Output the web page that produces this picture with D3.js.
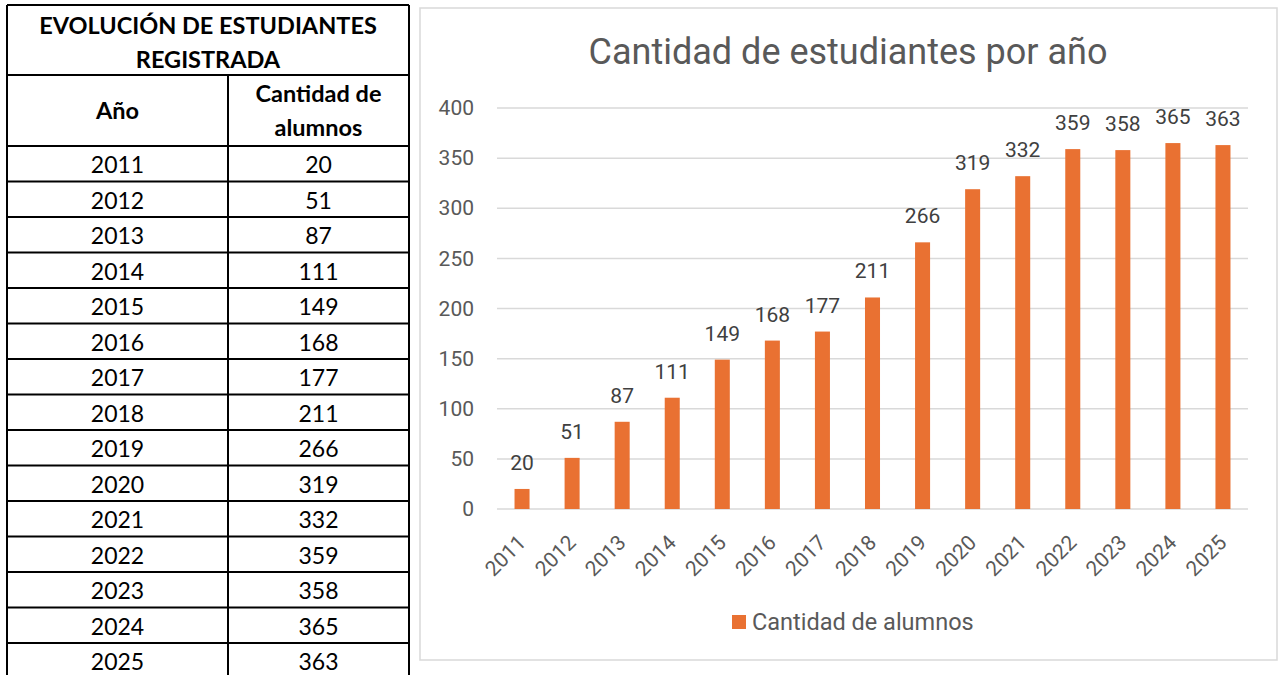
<!DOCTYPE html>
<html>
<head>
<meta charset="utf-8">
<script src="https://cdn.jsdelivr.net/npm/d3@7"></script>
<style>
  html, body { margin: 0; padding: 0; background: #fff; }
  svg { display: block; }
</style>
</head>
<body>
<svg id="chart"></svg>
<script>
// Data
const years = ['2011', '2012', '2013', '2014', '2015', '2016', '2017', '2018',
               '2019', '2020', '2021', '2022', '2023', '2024', '2025'];
const students = [20, 51, 87, 111, 149, 168, 177, 211, 266, 319, 332, 359, 358, 365, 363];
const yTicks = [0, 50, 100, 150, 200, 250, 300, 350, 400];
const tableTitle = ['EVOLUCIÓN DE ESTUDIANTES', 'REGISTRADA'];
const tableHeaders = [['Año'], ['Cantidad de', 'alumnos']];
const chartTitle = 'Cantidad de estudiantes por año';
const seriesName = 'Cantidad de alumnos';

const W = 1279, H = 675;
const svg = d3.select('#chart').attr('width', W).attr('height', H);

const tableFont = 'Lato, "Open Sans", sans-serif';
const chartFont = 'Roboto, "Noto Sans", sans-serif';

// ---------- table on the left ----------
const tb = { left: 7, right: 409, top: 5, mid: 228, titleBottom: 75, headBottom: 146, rowH: 35.5 };
const table = svg.append('g').attr('class', 'table');
const colCenters = [(tb.left + tb.mid) / 2, (tb.mid + tb.right) / 2];

// title
table.selectAll('text.ttl')
    .data(tableTitle)
    .enter()
    .append('text')
    .attr('class', 'ttl')
    .attr('x', (tb.left + tb.right) / 2)
    .attr('y', (d, i) => 34 + i * 34)
    .attr('text-anchor', 'middle')
    .attr('font-family', tableFont)
    .attr('font-weight', 'bold')
    .attr('font-size', '23.5px')
    .attr('fill', '#000')
    .text(d => d);

// headers
tableHeaders.forEach((lines, c) => {
    const cy = (tb.titleBottom + tb.headBottom) / 2;
    lines.forEach((ln, i) => {
        table.append('text')
            .attr('x', colCenters[c])
            .attr('y', cy + 8 + (i - (lines.length - 1) / 2) * 34)
            .attr('text-anchor', 'middle')
            .attr('font-family', tableFont)
            .attr('font-weight', 'bold')
            .attr('font-size', '23.5px')
            .attr('fill', '#000')
            .text(ln);
    });
});

// rows
const rows = table.selectAll('g.row')
    .data(years.map((y, i) => ({ year: y, value: students[i], i })))
    .enter()
    .append('g')
    .attr('class', 'row')
    .attr('transform', d => `translate(0,${tb.headBottom + d.i * tb.rowH})`);

rows.append('text')
    .attr('x', colCenters[0])
    .attr('y', 27)
    .attr('text-anchor', 'middle')
    .attr('font-family', tableFont)
    .attr('font-size', '23px')
    .attr('fill', '#000')
    .text(d => d.year);

rows.append('text')
    .attr('x', colCenters[1])
    .attr('y', 27)
    .attr('text-anchor', 'middle')
    .attr('font-family', tableFont)
    .attr('font-size', '23px')
    .attr('fill', '#000')
    .text(d => d.value);

// grid lines of the table
const tableBottom = tb.headBottom + years.length * tb.rowH;
const hLines = [tb.top, tb.titleBottom, tb.headBottom].concat(years.map((d, i) => tb.headBottom + (i + 1) * tb.rowH));
table.selectAll('line.h')
    .data(hLines)
    .enter()
    .append('line')
    .attr('x1', tb.left).attr('x2', tb.right)
    .attr('y1', d => d).attr('y2', d => d)
    .attr('stroke', '#000').attr('stroke-width', 2);

table.selectAll('line.v')
    .data([[tb.left, tb.top], [tb.right, tb.top], [tb.mid, tb.titleBottom]])
    .enter()
    .append('line')
    .attr('x1', d => d[0]).attr('x2', d => d[0])
    .attr('y1', d => d[1]).attr('y2', tableBottom)
    .attr('stroke', '#000').attr('stroke-width', 2);

// ---------- chart on the right ----------
const box = { x: 420, y: 8, w: 857, h: 652 };
svg.append('rect')
    .attr('x', box.x).attr('y', box.y)
    .attr('width', box.w).attr('height', box.h)
    .attr('fill', '#fff')
    .attr('stroke', '#d9d9d9')
    .attr('stroke-width', 1.5);

svg.append('text')
    .attr('x', 848)
    .attr('y', 64)
    .attr('text-anchor', 'middle')
    .attr('font-family', chartFont)
    .attr('font-size', '36px')
    .attr('fill', '#595959')
    .text(chartTitle);

const plot = { left: 497, right: 1248, top: 108, bottom: 509 };

const x = d3.scaleBand()
    .domain(years)
    .range([plot.left, plot.right])
    .paddingInner(0.7)
    .paddingOuter(0.35);

const y = d3.scaleLinear()
    .domain([0, 400])
    .range([plot.bottom, plot.top]);

// gridlines
svg.append('g')
    .selectAll('line')
    .data(yTicks)
    .enter()
    .append('line')
    .attr('x1', plot.left).attr('x2', plot.right)
    .attr('y1', d => y(d)).attr('y2', d => y(d))
    .attr('stroke', '#d9d9d9')
    .attr('stroke-width', 1.5);

// y axis labels
const yAxis = d3.axisLeft(y).tickValues(yTicks).tickSize(0).tickPadding(0);
const yg = svg.append('g')
    .attr('transform', `translate(${plot.left - 23},0)`)
    .call(yAxis);
yg.select('.domain').remove();
yg.selectAll('text')
    .attr('font-family', chartFont)
    .attr('font-size', '21px')
    .attr('fill', '#595959');

// bars
svg.append('g')
    .selectAll('rect')
    .data(students)
    .enter()
    .append('rect')
    .attr('x', (d, i) => x(years[i]))
    .attr('y', d => y(d))
    .attr('width', x.bandwidth())
    .attr('height', d => y(0) - y(d))
    .attr('fill', '#E97132');

// value labels
svg.append('g')
    .selectAll('text')
    .data(students)
    .enter()
    .append('text')
    .attr('x', (d, i) => x(years[i]) + x.bandwidth() / 2)
    .attr('y', d => y(d) - 19)
    .attr('text-anchor', 'middle')
    .attr('font-family', chartFont)
    .attr('font-size', '21px')
    .attr('fill', '#404040')
    .text(d => d);

// x axis labels
const xAxis = d3.axisBottom(x).tickSize(0).tickPadding(0);
const xg = svg.append('g')
    .attr('transform', `translate(0,${plot.bottom})`)
    .call(xAxis);
xg.select('.domain').remove();
xg.selectAll('text')
    .attr('font-family', chartFont)
    .attr('font-size', '21px')
    .attr('fill', '#595959')
    .attr('text-anchor', 'end')
    .attr('dy', 0)
    .attr('transform', 'translate(5,35) rotate(-45)');

// legend
const lg = svg.append('g').attr('transform', 'translate(732,615)');
lg.append('rect')
    .attr('width', 14).attr('height', 14)
    .attr('fill', '#E97132');
lg.append('text')
    .attr('x', 20)
    .attr('y', 14.5)
    .attr('font-family', chartFont)
    .attr('font-size', '23.5px')
    .attr('fill', '#595959')
    .text(seriesName);
</script>
</body>
</html>
